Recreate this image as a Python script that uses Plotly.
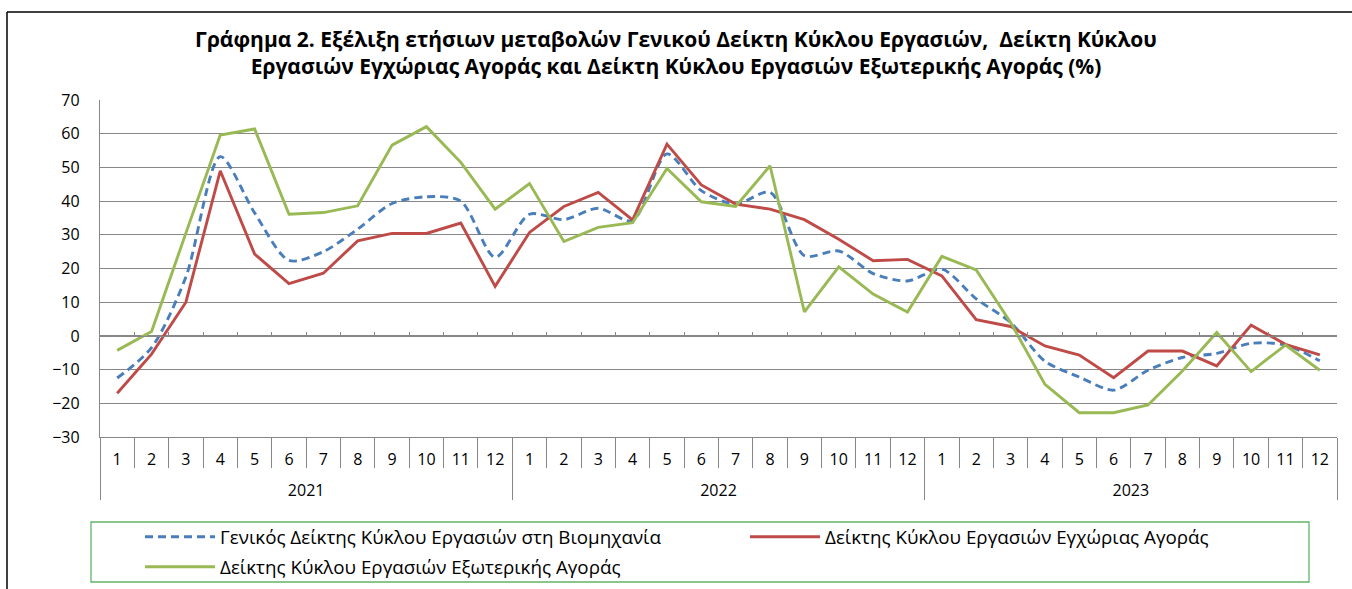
import plotly.graph_objects as go

# ---------------- data ----------------
years = ["2021", "2022", "2023"]
month_labels = ["1", "2", "3", "4", "5", "6", "7", "8", "9", "10", "11", "12"]

name_general = "Γενικός Δείκτης Κύκλου Εργασιών στη Βιομηχανία"
name_domestic = "Δείκτης Κύκλου Εργασιών Εγχώριας Αγοράς"
name_foreign = "Δείκτης Κύκλου Εργασιών Εξωτερικής Αγοράς"

general = [-12.5, -3.5, 17.5, 53.2, 36.5, 22.4, 25.0, 31.7, 39.3, 41.3, 40.0, 23.3,
           36.1, 34.5, 37.9, 34.2, 54.0, 43.1, 39.1, 42.6, 23.8, 25.2, 18.5, 16.3,
           19.8, 11.0, 4.0, -7.5, -12.2, -16.1, -10.2, -6.4, -5.2, -2.2, -2.7, -7.4]
domestic = [-17.0, -5.4, 10.0, 49.0, 24.3, 15.5, 18.6, 28.2, 30.4, 30.4, 33.5, 14.7,
            30.7, 38.4, 42.6, 34.4, 56.9, 44.8, 39.1, 37.6, 34.5, 28.7, 22.3, 22.7,
            17.8, 4.8, 2.8, -3.0, -5.7, -12.4, -4.5, -4.5, -8.9, 3.2, -2.5, -5.6]
foreign = [-4.3, 1.3, 30.5, 59.6, 61.4, 36.1, 36.6, 38.6, 56.6, 62.1, 51.5, 37.6,
           45.2, 28.0, 32.2, 33.6, 49.7, 39.8, 38.4, 50.5, 7.1, 20.5, 12.4, 7.1,
           23.6, 19.6, 4.0, -14.4, -22.8, -22.8, -20.5, -10.4, 1.0, -10.6, -2.7, -10.2]

title_lines = ["Γράφημα 2. Εξέλιξη ετήσιων μεταβολών Γενικού Δείκτη Κύκλου Εργασιών,  Δείκτη Κύκλου",
               "Εργασιών Εγχώριας Αγοράς και Δείκτη Κύκλου Εργασιών Εξωτερικής Αγοράς (%)"]

y_min, y_max, y_step = -30, 70, 10

# ---------------- layout constants ----------------
W, H = 1352, 589
ML, MR, MT, MB = 100, 15, 100, 152
PW = W - ML - MR
PH = H - MT - MB
FONT = "Open Sans"
GRID = "#878787"
BLUE = "#4a7ebb"
RED = "#be4b48"
GREEN = "#98b954"
LEG_FONT = dict(size=18.8, family=FONT, color="black")


def px_x(p):
    return (p - ML) / PW


def px_y(p):
    return (H - MB - p) / PH


n_per_year = len(month_labels)
n = n_per_year * len(years)
xpos = list(range(1, n + 1))
tick_text = month_labels * len(years)
boundaries = [i + 0.5 for i in range(0, n + 1)]
year_centers = [k * n_per_year + (n_per_year + 1) / 2 for k in range(len(years))]
year_bounds = [k * n_per_year + 0.5 for k in range(len(years) + 1)]
xrange_ = [0.5, n + 0.5]

fig = go.Figure()
fig.add_trace(go.Scatter(x=xpos, y=general, name=name_general, mode="lines",
                         line=dict(color=BLUE, width=2.9, dash="8px,5px", shape="spline", smoothing=0.8),
                         legend="legend"))
fig.add_trace(go.Scatter(x=xpos, y=domestic, name=name_domestic, mode="lines",
                         line=dict(color=RED, width=2.9), legend="legend2"))
fig.add_trace(go.Scatter(x=xpos, y=foreign, name=name_foreign, mode="lines",
                         line=dict(color=GREEN, width=2.9), legend="legend3"))
# empty helper traces so that the overlay axes are rendered
fig.add_trace(go.Scatter(x=[], y=[], xaxis="x2", showlegend=False, hoverinfo="skip"))
fig.add_trace(go.Scatter(x=[], y=[], xaxis="x3", showlegend=False, hoverinfo="skip"))

zero_pos = (0 - y_min) / (y_max - y_min)


def legend_at(x_px, y_px):
    return dict(orientation="h", x=px_x(x_px), xanchor="left", y=px_y(y_px), yanchor="middle",
                bgcolor="rgba(0,0,0,0)", font=LEG_FONT, itemwidth=70)


fig.update_layout(
    width=W, height=H,
    margin=dict(l=ML, r=MR, t=MT, b=MB, autoexpand=False),
    paper_bgcolor="white", plot_bgcolor="white",
    font=dict(family=FONT, color="black"),
    title=dict(text="<b>" + "<br>".join(title_lines) + "</b>",
               x=0.5, xref="container", xanchor="center",
               y=1 - 46.5 / H, yref="container", yanchor="top",
               font=dict(size=21, family=FONT, color="black")),
    xaxis=dict(range=xrange_, tickmode="array", tickvals=xpos, ticktext=tick_text,
               ticks="", showgrid=False, zeroline=False,
               showline=True, linecolor=GRID, linewidth=1.3,
               tickfont=dict(size=16, family=FONT, color="black"),
               ticklabelstandoff=8,
               minor=dict(tickmode="array", tickvals=boundaries, ticks="outside",
                          ticklen=30, tickcolor=GRID, tickwidth=1.3, showgrid=False)),
    xaxis2=dict(overlaying="x", anchor="y", side="bottom", range=xrange_,
                tickmode="array", tickvals=year_centers, ticktext=years,
                ticks="", showgrid=False, zeroline=False, showline=False,
                tickfont=dict(size=16, family=FONT, color="black"),
                ticklabelstandoff=42,
                minor=dict(tickmode="array", tickvals=year_bounds, ticks="outside",
                           ticklen=62, tickcolor=GRID, tickwidth=1.3, showgrid=False)),
    xaxis3=dict(overlaying="x", anchor="free", position=zero_pos, range=xrange_,
                tickmode="array", tickvals=boundaries, ticks="inside", ticklen=4,
                tickcolor=GRID, tickwidth=1.3, showticklabels=False,
                showgrid=False, zeroline=False, showline=True, linecolor=GRID, linewidth=1.3),
    yaxis=dict(range=[y_min, y_max], dtick=y_step, tick0=y_min, showgrid=True,
               gridcolor=GRID, gridwidth=1.3, zeroline=False,
               showline=True, linecolor=GRID, linewidth=1.3, ticks="",
               tickfont=dict(size=16, family=FONT, color="black"),
               ticklabelstandoff=16),
    legend=legend_at(140, 537),
    legend2=legend_at(745, 537),
    legend3=legend_at(140, 567),
    shapes=[
        dict(type="rect", xref="paper", yref="paper", x0=px_x(91), x1=px_x(1309),
             y0=px_y(522), y1=px_y(582), line=dict(color="#62b466", width=1.3)),
        dict(type="line", xref="paper", yref="paper", x0=px_x(7), x1=px_x(W + 5),
             y0=px_y(12), y1=px_y(12), line=dict(color="black", width=1.5)),
        dict(type="line", xref="paper", yref="paper", x0=px_x(7), x1=px_x(7),
             y0=px_y(12), y1=px_y(H + 5), line=dict(color="black", width=1.5)),
    ],
    showlegend=True,
)

fig.write_html("out.html", config={"displayModeBar": False},
               post_script="document.body.style.margin='0px';document.body.style.overflow='hidden';")
